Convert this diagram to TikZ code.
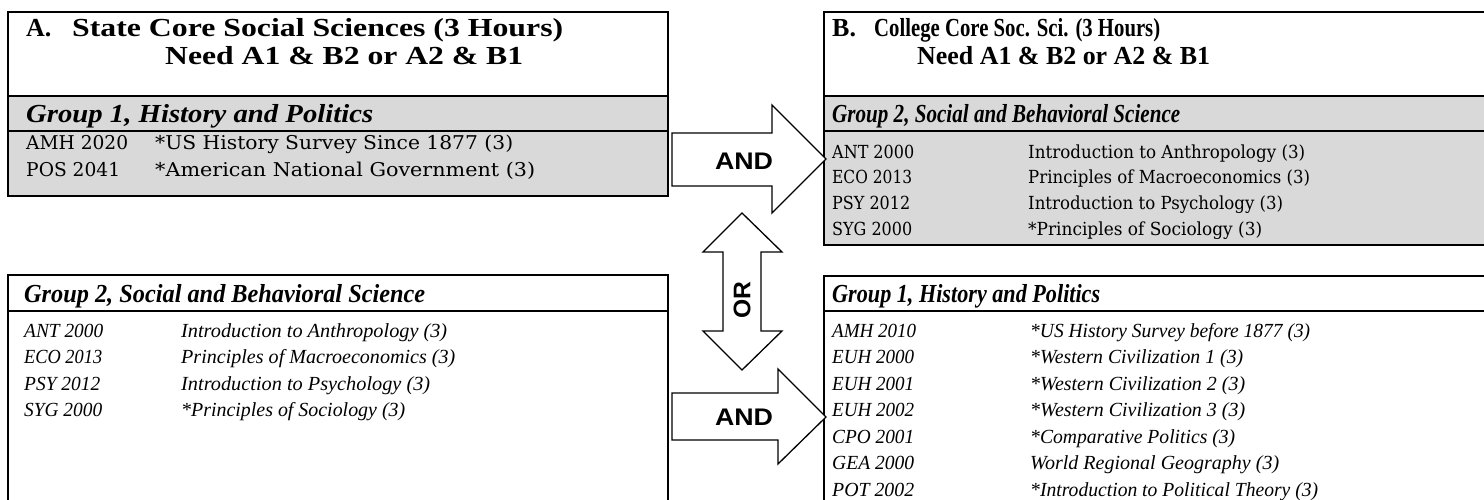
\documentclass[tikz,border=0pt]{standalone}
\usepackage{fontspec}
\setmainfont{Liberation Serif}
\newfontfamily\rowfont{DejaVu Serif}
\newfontfamily\arialfont{Liberation Sans}
\usepackage{graphicx}
\newcommand{\fw}[2]{\resizebox{#1pt}{\height}{#2}}
\definecolor{graybg}{HTML}{D9D9D9}
\tikzset{
  boxline/.style={draw=black, line width=1.8pt},
  sepline/.style={draw=black, line width=1.6pt},
  bigarrow/.style={draw=black, fill=white, line width=1.3pt, line join=miter},
  ttl/.style={font=\bfseries\fontsize{26}{30}\selectfont, anchor=base west, inner sep=0pt},
  hdr/.style={font=\bfseries\itshape\fontsize{26}{30}\selectfont, anchor=base west, inner sep=0pt},
  crow/.style={font=\rowfont\fontsize{19}{22}\selectfont, anchor=base west, inner sep=0pt},
  crowr/.style={font=\rowfont\fontsize{18}{22}\selectfont, anchor=base west, inner sep=0pt},
  irow/.style={font=\itshape\fontsize{20}{23}\selectfont, anchor=base west, inner sep=0pt},
  lbl/.style={font=\arialfont\bfseries\fontsize{24}{28}\selectfont, inner sep=0pt},
}
\begin{document}
\begin{tikzpicture}[x=1pt,y=-1pt]
\useasboundingbox (0,0) rectangle (1484,500);
\clip (0,0) rectangle (1484,500);
\fill[white] (0,0) rectangle (1484,500);

% ---------- Box A (top left) ----------
\fill[graybg] (8,96) rectangle (668,196);
\draw[sepline] (8,96) -- (668,96);
\draw[sepline] (8,131) -- (668,131);
\draw[boxline] (8,12) rectangle (668,196);
\node[ttl] (aA) at (26,37) {A.};
\node[ttl] (aT1) at (72,37) {\fw{491}{State Core Social Sciences (3 Hours)}};
\node[ttl] (aT2) at (165,65) {\fw{358}{Need A1 \& B2 or A2 \& B1}};
\node[hdr] (aH) at (26,123) {\fw{347}{Group 1, History and Politics}};
\node[crow] (aC1) at (26,150) {\fw{102}{AMH 2020}};
\node[crow] (aD1) at (155,150) {\fw{358}{*US History Survey Since 1877 (3)}};
\node[crow] (aC2) at (26,177) {\fw{94}{POS 2041}};
\node[crow] (aD2) at (155,177) {\fw{380}{*American National Government (3)}};

% ---------- Box B (top right) ----------
\fill[graybg] (824,96) rectangle (1500,245);
\draw[sepline] (824,96) -- (1500,96);
\draw[sepline] (824,131) -- (1500,131);
\draw[boxline] (824,12) rectangle (1500,245);
\node[ttl] (bB) at (832,37) {B.};
\node[ttl] (bT1) at (874,37) {\fw{286}{College Core Soc. Sci. (3 Hours)}};
\node[ttl] (bT2) at (917,65) {\fw{293}{Need A1 \& B2 or A2 \& B1}};
\node[hdr] (bH) at (832,123) {\fw{348}{Group 2, Social and Behavioral Science}};
\foreach \c/\cw/\d/\dw/\y [count=\i] in {
  {ANT 2000}/82/{Introduction to Anthropology (3)}/277/159,
  {ECO 2013}/80/{Principles of Macroeconomics (3)}/282/184,
  {PSY 2012}/78/{Introduction to Psychology (3)}/255/209,
  {SYG 2000}/80/{*Principles of Sociology (3)}/234/235}{
  \node[crowr] (bC\i) at (832,\y) {\fw{\cw}{\c}};
  \node[crowr] (bD\i) at (1028,\y) {\fw{\dw}{\d}};
}

% ---------- Box C (bottom left) ----------
\draw[sepline] (8,311) -- (668,311);
\draw[boxline] (8,275) rectangle (668,520);
\node[hdr] (cH) at (24,302) {\fw{401}{Group 2, Social and Behavioral Science}};
\foreach \c/\cw/\d/\dw/\y [count=\i] in {
  {ANT 2000}/79/{Introduction to Anthropology (3)}/266/337,
  {ECO 2013}/78/{Principles of Macroeconomics (3)}/274/363,
  {PSY 2012}/76/{Introduction to Psychology (3)}/249/390,
  {SYG 2000}/78/{*Principles of Sociology (3)}/224/416}{
  \node[irow] (cC\i) at (24,\y) {\fw{\cw}{\c}};
  \node[irow] (cD\i) at (181,\y) {\fw{\dw}{\d}};
}

% ---------- Box D (bottom right) ----------
\draw[sepline] (824,311) -- (1500,311);
\draw[boxline] (824,276) rectangle (1500,520);
\node[hdr] (dH) at (832,302) {\fw{268}{Group 1, History and Politics}};
\foreach \c/\cw/\d/\dw/\y [count=\i] in {
  {AMH 2010}/84/{*US History Survey before 1877 (3)}/280/337,
  {EUH 2000}/82/{*Western Civilization 1 (3)}/213/363,
  {EUH 2001}/82/{*Western Civilization 2 (3)}/215/390,
  {EUH 2002}/82/{*Western Civilization 3 (3)}/215/416,
  {CPO 2001}/82/{*Comparative Politics (3)}/205/443,
  {GEA 2000}/82/{World Regional Geography (3)}/249/469,
  {POT 2002}/82/{*Introduction to Political Theory (3)}/288/496}{
  \node[irow] (dC\i) at (832,\y) {\fw{\cw}{\c}};
  \node[irow] (dD\i) at (1030,\y) {\fw{\dw}{\d}};
}

% ---------- Arrows ----------
\draw[bigarrow] (672,133) -- (772,133) -- (772,105) -- (826,159) -- (772,213) -- (772,186) -- (672,186) -- cycle;
\node[lbl] (and1) at (744,161) {\fw{58}{AND}};

\draw[bigarrow] (672,393) -- (778,393) -- (778,369) -- (826,417) -- (778,464) -- (778,440) -- (672,440) -- cycle;
\node[lbl] (and2) at (744,417) {\fw{58}{AND}};

\draw[bigarrow] (742,213) -- (782,252) -- (761,252) -- (761,331) -- (782,331) -- (742,370) -- (703,331) -- (723,331) -- (723,252) -- (703,252) -- cycle;
\node[lbl, rotate=90] (or) at (742,300) {\fw{37}{OR}};
\end{tikzpicture}
\end{document}
